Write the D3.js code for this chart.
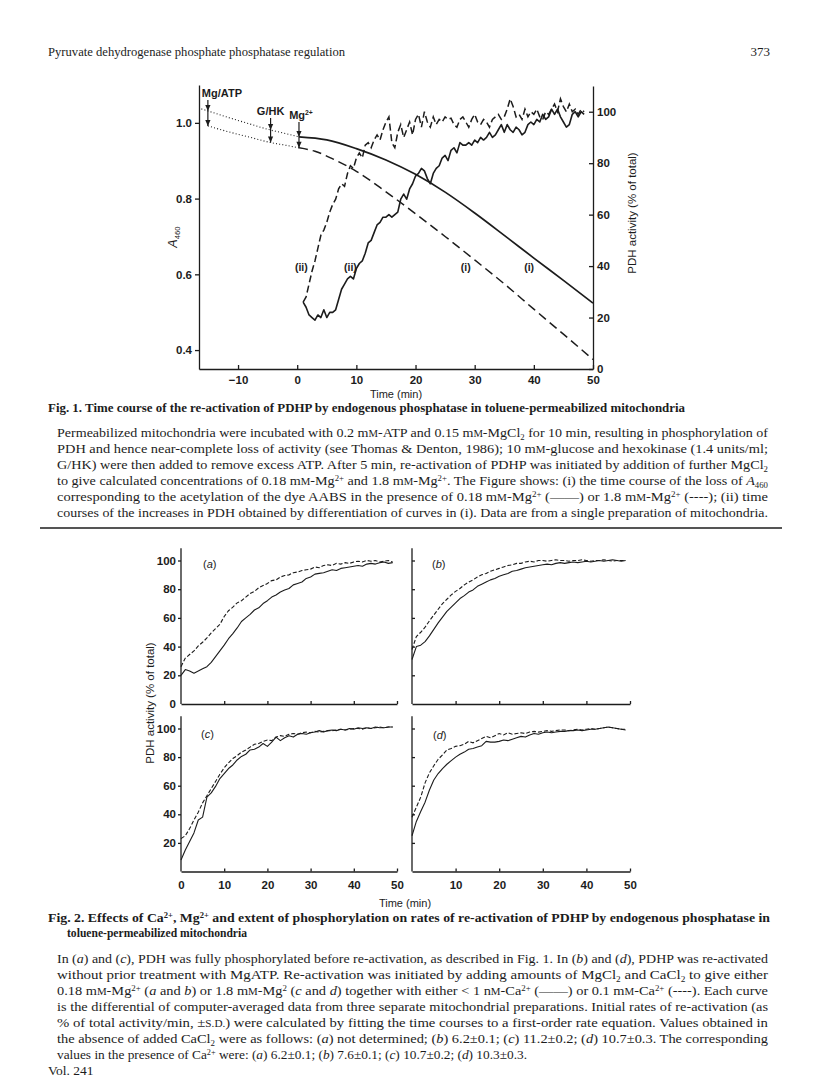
<!DOCTYPE html>
<html>
<head>
<meta charset="utf-8">
<script src="https://cdn.jsdelivr.net/npm/d3@7"></script>
<style>
  body { margin: 0; background: #fff; }
  svg { display: block; }
</style>
</head>
<body>
<svg width="816" height="1083"></svg>
<script>
// ---------- Fig. 1 data ----------
// dotted pre-incubation traces (A460)
const preUpperTime = [-16.2, -12, -8, -4.5, -2, 0.3];
const preUpperA = [1.037, 1.016, 0.997, 0.981, 0.972, 0.963];
const preLowerTime = [-15.1, -12, -8, -4.5, -2, 0.3];
const preLowerA = [0.992, 0.978, 0.962, 0.948, 0.941, 0.934];

// (i) loss of A460 after Mg2+
const lossSolidTime = [0.3, 5, 10, 15, 20, 25, 30, 35, 40, 45, 50];
const lossSolidA = [0.963, 0.955, 0.932, 0.902, 0.864, 0.817, 0.762, 0.703, 0.643, 0.584, 0.524];
const lossDashTime = [0.3, 3, 6, 10, 15, 20, 25, 30, 35, 40, 45, 50];
const lossDashA = [0.934, 0.925, 0.905, 0.872, 0.818, 0.760, 0.700, 0.638, 0.575, 0.508, 0.442, 0.375];

// (ii) PDH activity (% of total)
const pdhTime = [1, 1.5, 2, 2.5, 3, 3.5, 4, 4.5, 5, 5.5, 6, 6.5, 7, 7.5, 8, 8.5, 9, 9.5, 10, 10.5,
  11, 11.5, 12, 12.5, 13, 13.5, 14, 14.5, 15, 15.5, 16, 16.5, 17, 17.5, 18, 18.5, 19, 19.5, 20, 20.5,
  21, 21.5, 22, 22.5, 23, 23.5, 24, 24.5, 25, 25.5, 26, 26.5, 27, 27.5, 28, 28.5, 29, 29.5, 30, 30.5,
  31, 31.5, 32, 32.5, 33, 33.5, 34, 34.5, 35, 35.5, 36, 36.5, 37, 37.5, 38, 38.5, 39, 39.5, 40, 40.5,
  41, 41.5, 42, 42.5, 43, 43.5, 44, 44.5, 45, 45.5, 46, 46.5, 47, 47.5, 48, 48.5];
const pdhDash = [26, 28, 33, 38, 42, 47, 52, 54, 57, 61, 64, 66, 70, 72, 71, 76, 79, 78, 82, 84,
  82, 87, 88, 86, 89, 91, 89, 93, 96, 98, 88, 86, 92, 95, 90, 93, 96, 91, 97, 99,
  94, 100, 96, 94, 98, 95, 97, 96, 98, 97, 97.5, 95, 94, 97, 98, 96, 94, 97, 99, 96,
  95, 97, 96, 94, 97, 98, 99, 97, 98, 101, 105, 102, 98, 99, 97, 101, 98, 100, 99, 101,
  98, 97, 100, 99, 101, 103, 100, 105, 102, 100, 103, 100, 101, 99, 101, 100];
const pdhSolid = [26, 24, 21, 20, 19, 21, 20, 23, 20, 22, 22, 23, 27, 31, 33, 35, 36, 35, 39, 41,
  42, 45, 49, 50, 53, 56, 57, 59, 59, 60, 59, 60, 61, 66, 68, 66, 70, 72, 75, 76,
  78, 77, 74, 72, 76, 78, 79, 82, 83, 81, 85, 86, 84, 88, 87, 87, 88, 87, 89, 88,
  90, 89, 90, 92, 90, 91, 93, 95, 92, 95, 93, 92, 94, 93, 91, 92, 95, 96, 95, 97,
  96, 99, 97, 98, 101, 99, 101, 98, 96, 94, 95, 99, 100, 98, 100, 99];

const absTicks = [0.4, 0.6, 0.8, 1.0];
const pctTicks1 = [0, 20, 40, 60, 80, 100];
const timeTicks1 = [-10, 0, 10, 20, 30, 40, 50];
const eventTime = [-15.1, -4.5, 0.3];
const eventText = ['Mg/ATP', 'G/HK', 'Mg^{2+}'];
const curveLabelTime = [0.7, 9, 28.5, 39.2];
const curveLabelText = ['(ii)', '(ii)', '(i)', '(i)'];

// ---------- Fig. 2 data (PDH activity, % of total, at 1-min steps) ----------
const fig2Time = [0, 1, 2, 3, 4, 5, 6, 7, 8, 9, 10, 11, 12, 13, 14, 15, 16, 17, 18, 19, 20, 21, 22, 23, 24,
  25, 26, 27, 28, 29, 30, 31, 32, 33, 34, 35, 36, 37, 38, 39, 40, 41, 42, 43, 44, 45, 46, 47, 48, 49];
const aSolid = [20, 24, 23, 21.5, 23, 24.5, 26, 29, 33, 37, 41, 45.5, 49, 53, 57.5, 60, 62.5, 65.5, 67, 70,
  72, 74.5, 76, 78, 79.5, 80.5, 83, 84, 85, 87.5, 88.5, 90.5, 91, 91.5, 92.5, 93.5, 93, 94.5, 95, 95.5,
  96, 96.5, 96, 97.5, 98, 97.5, 98.5, 99, 98, 98.5];
const aDash = [26, 32, 34.5, 37, 40.5, 43, 46, 49.5, 52.5, 55.5, 61, 65, 67.5, 70.5, 72, 74.5, 77, 78.5, 81, 82.5,
  84, 86, 86.5, 88.5, 89.5, 90, 91.5, 92, 93, 93.5, 94, 95.5, 95, 96.5, 97, 96.5, 98, 97.5, 98.5, 98,
  99, 99.5, 99, 100, 99.5, 100, 99, 99.5, 100, 99];
const bSolid = [31, 40, 41, 43.5, 47.5, 52, 56.5, 60.5, 64.5, 67.5, 70.5, 73.5, 75.5, 78, 79.5, 82, 83.5, 85, 86.5, 87.5,
  89, 90, 91, 92.5, 93, 94, 95, 95.5, 96, 96.5, 97, 97.5, 97, 98, 98.5, 98, 98.5, 99, 98.5, 99,
  99.5, 99, 99.5, 100, 99.5, 100, 100.5, 100, 99.5, 100];
const bDash = [38, 47, 50, 53.5, 58, 62, 66, 70, 73, 76, 78.5, 80.5, 83, 85, 86.5, 88.5, 90, 91, 92.5, 93.5,
  94.5, 95.5, 96.5, 97, 98, 98, 99, 99.5, 99, 100, 100, 99.5, 100, 100.5, 100, 100, 99.5, 100, 100, 100.5,
  100, 99.5, 100, 100, 100.5, 100, 99.5, 100, 100, 100];
const cSolid = [8, 15, 21, 27, 36, 38, 52, 55, 59.5, 65, 68.5, 72, 74.5, 78, 80.5, 82, 85, 85.5, 87, 89.5,
  87.5, 90.5, 94, 91.5, 93.5, 95, 94, 96, 96.5, 96, 97, 97.5, 98.5, 97.5, 98.5, 99, 98.5, 99.5, 99, 100,
  99.5, 100.5, 100, 100.5, 100, 101, 100.5, 100.5, 101, 101];
const cDash = [23, 25, 30, 36, 41.5, 48, 53, 58, 63, 68, 72.5, 76, 79, 81, 83.5, 85, 87, 89, 89.5, 91,
  92, 91.5, 94, 95, 94.5, 96, 96.5, 96, 97, 97.5, 97, 98, 97.5, 98, 98.5, 98.5, 99, 99.5, 99, 99.5,
  100, 100, 99.5, 100.5, 100, 100.5, 101, 100.5, 101, 101];
const dSolid = [25, 35, 42, 48.5, 57, 64, 68.5, 72, 75, 77.5, 80, 82, 83.5, 85.5, 86, 87, 88, 91, 90.5, 90.5,
  91, 92, 91.5, 92.5, 93.5, 94.5, 94, 95.5, 96.5, 96, 97, 97.5, 97, 97.5, 98, 98, 98.5, 98.5, 99, 98.5,
  99, 99.5, 99.5, 100, 100.5, 101, 100.5, 100, 99.5, 99];
const dDash = [38, 45, 52, 62, 69, 74, 78.5, 81.5, 85, 86, 87.5, 88, 89, 91, 90, 91.5, 93, 94.5, 93.5, 95,
  96.5, 95.5, 97, 96, 96.5, 97, 96.5, 97.5, 98, 97.5, 98, 98.5, 98, 98.5, 99, 99, 98.5, 99, 99.5, 99,
  99.5, 100, 99.5, 100, 100.5, 101, 100.5, 100, 99.5, 99.5];
const pctTicks2 = [20, 40, 60, 80, 100];
const timeTicks2 = [0, 10, 20, 30, 40, 50];

// ---------- page text ----------
const fig1Caption = [
  'Permeabilized mitochondria were incubated with 0.2 m~{M}-ATP and 0.15 m~{M}-MgCl_{2} for 10 min, resulting in phosphorylation of',
  'PDH and hence near-complete loss of activity (see Thomas & Denton, 1986); 10 m~{M}-glucose and hexokinase (1.4 units/ml;',
  'G/HK) were then added to remove excess ATP. After 5 min, re-activation of PDHP was initiated by addition of further MgCl_{2}',
  'to give calculated concentrations of 0.18 m~{M}-Mg^{2+} and 1.8 m~{M}-Mg^{2+}. The Figure shows: (i) the time course of the loss of *{A}_{460}',
  'corresponding to the acetylation of the dye AABS in the presence of 0.18 m~{M}-Mg^{2+} (\u2014\u2014) or 1.8 m~{M}-Mg^{2+} (----); (ii) time',
  'courses of the increases in PDH obtained by differentiation of curves in (i). Data are from a single preparation of mitochondria.'
];
const fig2Caption = [
  'In (*{a}) and (*{c}), PDH was fully phosphorylated before re-activation, as described in Fig. 1. In (*{b}) and (*{d}), PDHP was re-activated',
  'without prior treatment with MgATP. Re-activation was initiated by adding amounts of MgCl_{2} and CaCl_{2} to give either',
  '0.18 m~{M}-Mg^{2+} (*{a} and *{b}) or 1.8 m~{M}-Mg^{2} (*{c} and *{d}) together with either < 1 n~{M}-Ca^{2+} (\u2014\u2014) or 0.1 m~{M}-Ca^{2+} (----). Each curve',
  'is the differential of computer-averaged data from three separate mitochondrial preparations. Initial rates of re-activation (as',
  '% of total activity/min, \u00b1~{S.D.}) were calculated by fitting the time courses to a first-order rate equation. Values obtained in',
  'the absence of added CaCl_{2} were as follows: (*{a}) not determined; (*{b}) 6.2\u00b10.1; (*{c}) 11.2\u00b10.2; (*{d}) 10.7\u00b10.3. The corresponding',
  'values in the presence of Ca^{2+} were: (*{a}) 6.2\u00b10.1; (*{b}) 7.6\u00b10.1; (*{c}) 10.7\u00b10.2; (*{d}) 10.3\u00b10.3.'
];

// ---------- helpers ----------
const svg = d3.select('svg');
const ink = '#1c1c1c';
const serif = '"Liberation Serif", "Times New Roman", serif';
const sans = '"Liberation Sans", Arial, Helvetica, sans-serif';

// text with ^{sup} _{sub} ~{small caps} *{italic}
function rich(g, str, x, y, o) {
  o = Object.assign({ size: 13, family: serif, weight: 'normal', anchor: 'start' }, o || {});
  const t = g.append('text')
    .attr('x', x).attr('y', y)
    .attr('font-family', o.family)
    .attr('font-size', o.size)
    .attr('font-weight', o.weight)
    .attr('text-anchor', o.anchor)
    .attr('fill', ink);
  if (o.width) t.attr('textLength', o.width).attr('lengthAdjust', 'spacingAndGlyphs');
  if (o.rotate) t.attr('transform', `rotate(${o.rotate},${x},${y})`);
  const re = /([\^_~*])\{([^}]*)\}/g;
  let last = 0, m, back = 0;
  const put = (s, kind) => {
    if (!s) return;
    const sp = t.append('tspan').text(s);
    let dy = back;
    back = 0;
    if (kind === '^') { dy -= o.size * 0.34; back = o.size * 0.34; sp.attr('font-size', o.size * 0.62); }
    if (kind === '_') { dy += o.size * 0.2; back = -o.size * 0.2; sp.attr('font-size', o.size * 0.62); }
    if (kind === '~') sp.attr('font-size', o.size * 0.76);
    if (kind === '*') sp.attr('font-style', 'italic');
    if (dy) sp.attr('dy', dy);
  };
  while ((m = re.exec(str))) {
    put(str.slice(last, m.index));
    put(m[2], m[1]);
    last = re.lastIndex;
  }
  put(str.slice(last));
  return t;
}

function styleAxis(g, size, weight) {
  g.attr('font-family', sans).attr('font-size', size).attr('font-weight', weight);
  g.selectAll('path, line').attr('stroke', ink).attr('stroke-width', 1.3);
  g.selectAll('text').attr('fill', ink);
}

function lerp(ts, vs, t) {
  return d3.scaleLinear().domain(ts).range(vs)(t);
}

// ---------- page header / footer ----------
rich(svg, 'Pyruvate dehydrogenase phosphate phosphatase regulation', 48, 56, { width: 297 });
rich(svg, '373', 770, 56, { anchor: 'end' });
rich(svg, 'Vol. 241', 48, 1075, { size: 13.5 });

// ---------- Fig. 1 ----------
const f1 = svg.append('g');
const x1 = d3.scaleLinear().domain([-16.6, 50]).range([199, 593]);
const yA = d3.scaleLinear().domain([0.35, 1.1]).range([369, 85]);
const yP = d3.scaleLinear().domain([0, 110]).range([369, 86]);

f1.append('g').attr('transform', 'translate(199,0)')
  .call(d3.axisLeft(yA).tickValues(absTicks).tickFormat(d3.format('.1f')).tickSize(4).tickSizeOuter(0).tickPadding(3))
  .call(g => styleAxis(g, 11.5, 'bold'));
f1.append('g').attr('transform', 'translate(0,369)')
  .call(d3.axisBottom(x1).tickValues(timeTicks1).tickSize(-4).tickSizeOuter(0).tickPadding(7))
  .call(g => styleAxis(g, 11.5, 'bold'));
f1.append('g').attr('transform', 'translate(593,0)')
  .call(d3.axisRight(yP).tickValues(pctTicks1).tickSize(-4).tickSizeOuter(0).tickPadding(4))
  .call(g => styleAxis(g, 11.5, 'bold'));

rich(f1, 'Time (min)', 396, 398, { family: sans, size: 11, anchor: 'middle' });
rich(f1, '*{A}_{460}', 177, 237, { family: sans, size: 12.5, anchor: 'middle', rotate: -90 });
rich(f1, 'PDH activity (% of total)', 636, 213, { family: sans, size: 11.5, anchor: 'middle', rotate: -90 });

const lineA = d3.line().x(d => x1(d[0])).y(d => yA(d[1])).curve(d3.curveMonotoneX);
const lineP = d3.line().x(d => x1(d[0])).y(d => yP(d[1]));

f1.append('path').datum(d3.zip(preUpperTime, preUpperA)).attr('d', lineA)
  .attr('fill', 'none').attr('stroke', ink).attr('stroke-width', 1.1).attr('stroke-dasharray', '1,2.2');
f1.append('path').datum(d3.zip(preLowerTime, preLowerA)).attr('d', lineA)
  .attr('fill', 'none').attr('stroke', ink).attr('stroke-width', 1.1).attr('stroke-dasharray', '1,2.2');
f1.append('path').datum(d3.zip(lossSolidTime, lossSolidA)).attr('d', lineA)
  .attr('fill', 'none').attr('stroke', ink).attr('stroke-width', 1.7);
f1.append('path').datum(d3.zip(lossDashTime, lossDashA)).attr('d', lineA)
  .attr('fill', 'none').attr('stroke', ink).attr('stroke-width', 1.5).attr('stroke-dasharray', '9,5');
f1.append('path').datum(d3.zip(pdhTime, pdhSolid)).attr('d', lineP)
  .attr('fill', 'none').attr('stroke', ink).attr('stroke-width', 1.6).attr('stroke-linejoin', 'round');
f1.append('path').datum(d3.zip(pdhTime, pdhDash)).attr('d', lineP)
  .attr('fill', 'none').attr('stroke', ink).attr('stroke-width', 1.5).attr('stroke-dasharray', '7,3.5');

// event arrows
const eventLabelY = [97, 115, 119];
eventTime.forEach((t, i) => {
  const x = x1(t);
  const yUp = yA(lerp(preUpperTime, preUpperA, t));
  const yLo = yA(lerp(preLowerTime, preLowerA, t));
  const top = eventLabelY[i] + 3;
  f1.append('line').attr('x1', x).attr('x2', x).attr('y1', top).attr('y2', yLo)
    .attr('stroke', ink).attr('stroke-width', 1.2);
  [yUp, yLo].forEach(y => {
    f1.append('path').attr('d', `M${x - 2.6},${y - 6}L${x + 2.6},${y - 6}L${x},${y}Z`).attr('fill', ink);
  });
  if (i === 0) rich(f1, eventText[i], x - 6, eventLabelY[i], { family: sans, size: 11, weight: 'bold' });
  else rich(f1, eventText[i], x + (i === 2 ? 2 : 0), eventLabelY[i], { family: sans, size: 11, weight: 'bold', anchor: 'middle' });
});

curveLabelTime.forEach((t, i) => {
  rich(f1, curveLabelText[i], x1(t), yA(0.61), { family: sans, size: 10.5, weight: 'bold', anchor: 'middle' });
});

// Fig. 1 legend text
rich(svg, 'Fig. 1. Time course of the re-activation of PDHP by endogenous phosphatase in toluene-permeabilized mitochondria',
  48, 412, { weight: 'bold', width: 637 });
fig1Caption.forEach((s, i) => rich(svg, s, 57, 437 + i * 16, { width: 711 }));
svg.append('line').attr('x1', 40).attr('x2', 782).attr('y1', 528).attr('y2', 528)
  .attr('stroke', ink).attr('stroke-width', 1.6);

// ---------- Fig. 2 ----------
const f2 = svg.append('g');
const panels = [
  { tag: 'a', solid: aSolid, dash: aDash, xr: [181, 397], yr: [704, 560.5], left: true, bottom: false, lx: 203, ly: 568 },
  { tag: 'b', solid: bSolid, dash: bDash, xr: [412, 630], yr: [704, 560.5], left: false, bottom: false, lx: 432, ly: 568 },
  { tag: 'c', solid: cSolid, dash: cDash, xr: [181, 397], yr: [871.5, 728.5], left: true, bottom: true, lx: 201, ly: 738 },
  { tag: 'd', solid: dSolid, dash: dDash, xr: [412, 630], yr: [871.5, 728.5], left: false, bottom: true, lx: 433, ly: 739 }
];

panels.forEach(p => {
  const xs = d3.scaleLinear().domain([0, 50]).range(p.xr);
  const ys = d3.scaleLinear().domain([0, 100]).range(p.yr);
  const g = f2.append('g');
  const topY = ys(108.5);

  // y axis
  const yTicks = (p.left && !p.bottom) ? [0].concat(pctTicks2) : pctTicks2;
  const ya = p.left
    ? d3.axisLeft(ys).tickValues(yTicks).tickSize(3).tickPadding(2)
    : d3.axisLeft(ys).tickValues(pctTicks2).tickSize(-3).tickFormat('');
  g.append('g').attr('transform', `translate(${p.xr[0]},0)`)
    .call(ya.tickSizeOuter(0))
    .call(ax => ax.select('.domain').attr('d', `M0,${p.yr[0]}V${topY}`))
    .call(ax => styleAxis(ax, 11.5, 'bold'));
  // remove the tick mark at 0 (sits on the x axis)
  g.selectAll('.tick').filter(d => d === 0).select('line').remove();

  // x axis
  const xTicks = p.bottom ? (p.left ? timeTicks2 : timeTicks2.slice(1)) : timeTicks2.slice(1);
  const xa = d3.axisBottom(xs).tickValues(xTicks).tickSize(-3).tickSizeOuter(0).tickPadding(9);
  if (!p.bottom) xa.tickFormat('');
  g.append('g').attr('transform', `translate(0,${p.yr[0]})`)
    .call(xa)
    .call(ax => styleAxis(ax, 11.5, 'bold'))
    .call(ax => ax.selectAll('.tick').filter(d => d === 0).select('line').remove());

  const ln = d3.line().x(d => xs(d[0])).y(d => ys(d[1]));
  g.append('path').datum(d3.zip(fig2Time, p.solid)).attr('d', ln)
    .attr('fill', 'none').attr('stroke', ink).attr('stroke-width', 1.1).attr('stroke-linejoin', 'round');
  g.append('path').datum(d3.zip(fig2Time, p.dash)).attr('d', ln)
    .attr('fill', 'none').attr('stroke', ink).attr('stroke-width', 1.1).attr('stroke-dasharray', '4,2');

  rich(g, `(*{${p.tag}})`, p.lx, p.ly, { family: sans, size: 11 });
});

rich(f2, 'Time (min)', 405, 907, { family: sans, size: 11, anchor: 'middle' });
rich(f2, 'PDH activity (% of total)', 154, 703, { family: sans, size: 11.5, anchor: 'middle', rotate: -90 });

rich(svg, 'Fig. 2. Effects of Ca^{2+}, Mg^{2+} and extent of phosphorylation on rates of re-activation of PDHP by endogenous phosphatase in',
  48, 922, { weight: 'bold', width: 722 });
rich(svg, 'toluene-permeabilized mitochondria', 67, 937, { weight: 'bold', width: 180 });
fig2Caption.forEach((s, i) => {
  const last = i === fig2Caption.length - 1;
  rich(svg, s, 57, 963 + i * 16, { width: last ? 470 : 711 });
});
</script>
</body>
</html>
